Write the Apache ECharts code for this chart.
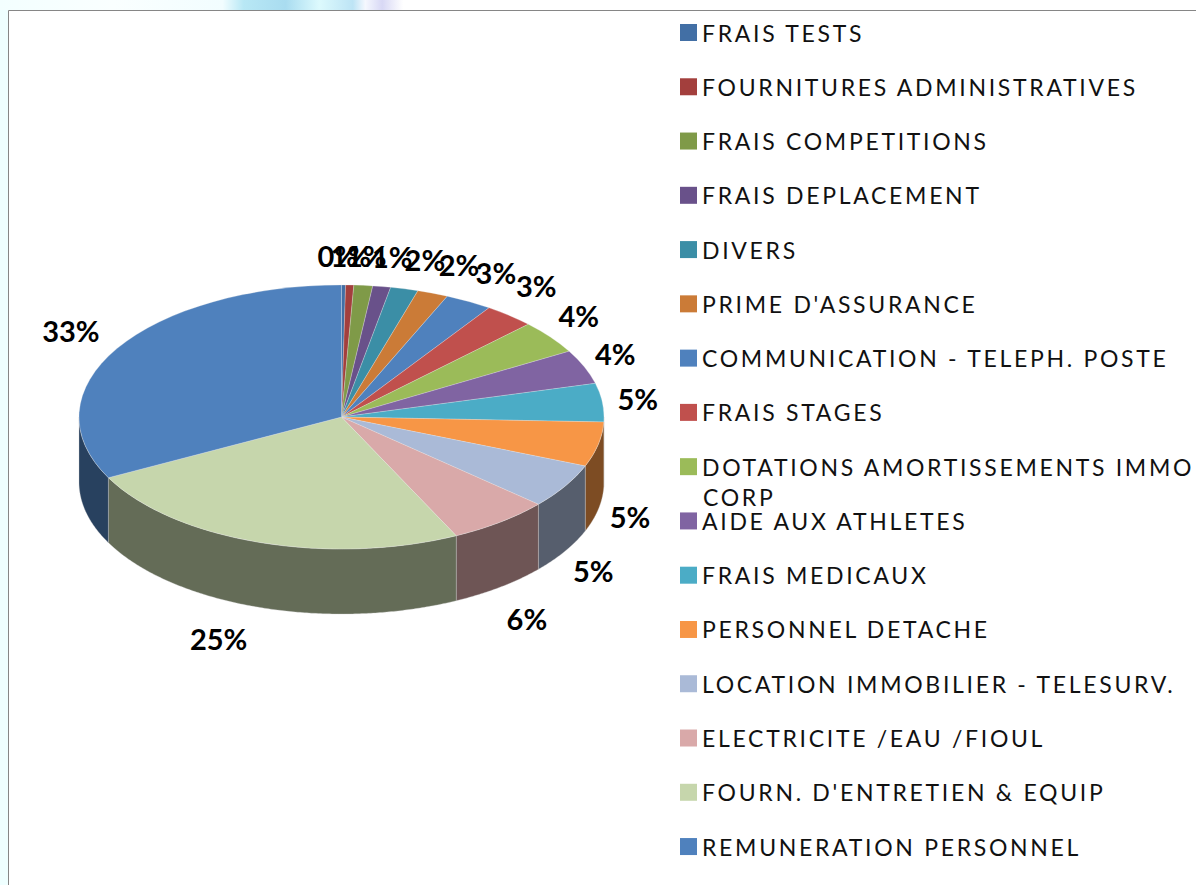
<!DOCTYPE html>
<html><head><meta charset="utf-8">
<style>
html,body{margin:0;padding:0;background:#fff;overflow:hidden}
#c{width:1196px;height:885px}
svg text{letter-spacing:2.7px}
svg text[style*="bold"]{letter-spacing:0}
</style>
<script src="https://cdn.jsdelivr.net/npm/echarts@6/dist/echarts.min.js"></script>
</head><body><div id="c"></div>
<script>
const categories = ["FRAIS TESTS","FOURNITURES ADMINISTRATIVES","FRAIS COMPETITIONS","FRAIS DEPLACEMENT","DIVERS","PRIME D'ASSURANCE","COMMUNICATION - TELEPH. POSTE","FRAIS STAGES","DOTATIONS AMORTISSEMENTS IMMO CORP","AIDE AUX ATHLETES","FRAIS MEDICAUX","PERSONNEL DETACHE","LOCATION IMMOBILIER - TELESURV.","ELECTRICITE /EAU /FIOUL","FOURN. D'ENTRETIEN & EQUIP","REMUNERATION PERSONNEL"];
const values = [0.25,0.5,1.15,1.1,1.7,1.9,2.9,3.1,4.1,4.2,4.7,5.45,5.45,6.3,24.6,32.6];
const colors = ["#426FA5","#A33F3D","#7F9A48","#69518A","#3B8EA6","#CB7B37","#4F81BD","#C0504D","#9BBB59","#8064A2","#4BACC6","#F79646","#AABAD7","#D9A9A9","#C6D6AC","#4F81BD"];
const PIE = {cx:341.5, cy:417, rx:262.5, ry:132, depth:65, labelRx:298, labelRy:167};
const labelNudge = {
  "FRAIS TESTS":[-6,5],"FOURNITURES ADMINISTRATIVES":[0,5],"FRAIS COMPETITIONS":[0,5],
  "FRAIS DEPLACEMENT":[5,5],"DIVERS":[12,5],"PRIME D'ASSURANCE":[14,4],
  "COMMUNICATION - TELEPH. POSTE":[10,2],"FRAIS STAGES":[4,-3],
  "AIDE AUX ATHLETES":[-2,0],"PERSONNEL DETACHE":[-3,0],"LOCATION IMMOBILIER - TELESURV.":[-2,1],
  "ELECTRICITE /EAU /FIOUL":[5,4],"FOURN. D'ENTRETIEN & EQUIP":[-29,-2],"REMUNERATION PERSONNEL":[-16,0]
};

const total = values.reduce((a,b)=>a+b,0);
let acc = 0;
const spans = values.map(v=>{const s=acc/total*360; acc+=v; return [s,acc/total*360];});
const rad = d=>d*Math.PI/180;
function darken(hex){const n=parseInt(hex.slice(1),16);
  return 'rgb('+[(n>>16)&255,(n>>8)&255,n&255].map(c=>Math.round(c*0.505)).join(',')+')';}
function ept(t,dy){return [PIE.cx+PIE.rx*Math.sin(rad(t)), PIE.cy-PIE.ry*Math.cos(rad(t))+dy];}

function makeRender(i){
  return function(){
    const [s,e]=spans[i];
    const children=[];
    const a1=Math.max(s,90), a2=Math.min(e,270);
    if(a1<a2){
      const top=[],bot=[];
      for(let t=a1;;t+=0.5){const u=Math.min(t,a2);top.push(ept(u,0));bot.unshift(ept(u,PIE.depth));if(u>=a2)break;}
      children.push({type:'polygon',shape:{points:top.concat(bot)},
        style:{fill:darken(colors[i]),stroke:'rgba(205,205,205,0.55)',lineWidth:0.6}});
    }
    children.push({type:'sector',x:PIE.cx,y:PIE.cy,scaleY:PIE.ry/PIE.rx,
      shape:{cx:0,cy:0,r0:0,r:PIE.rx,startAngle:rad(s-90),endAngle:rad(e-90),clockwise:true},
      style:{fill:colors[i],stroke:'rgba(235,235,235,0.6)',lineWidth:0.6}});
    const m=(s+e)/2;
    const n=labelNudge[categories[i]]||[0,0];
    const lx=PIE.cx+PIE.labelRx*Math.sin(rad(m))+n[0];
    const ly=PIE.cy-PIE.labelRy*Math.cos(rad(m))+(m>90&&m<270?PIE.depth:0)+n[1];
    children.push({type:'text',x:lx,y:ly,z2:50,style:{text:Math.round(values[i]/total*100)+'%',
      fill:'#000',font:'bold 29px Lato',align:'center',verticalAlign:'middle'}});
    return {type:'group',children};
  };
}

const chart = echarts.init(document.getElementById('c'),null,{renderer:'svg',width:1196,height:885});
chart.setOption({
  animation:false,
  backgroundColor:'#fff',
  color:colors,
  legend:{
    orient:'vertical',left:680,top:21,padding:0,height:860,itemWidth:17,itemHeight:17,itemGap:31.27,
    icon:'rect',selectedMode:false,
    data:categories,
    formatter:n=>n.replace(' CORP',''),
    textStyle:{fontFamily:'Lato',fontSize:23,color:'#111'}
  },
  graphic:[
    {type:'rect',silent:true,z:-10,shape:{x:0,y:0,width:420,height:10},style:{fill:new echarts.graphic.LinearGradient(0,0,1,0,[
      {offset:0,color:'#F3FFFF'},{offset:0.27,color:'#FAFFFF'},{offset:0.53,color:'#F2FDFF'},{offset:0.58,color:'#B8E8F5'},
      {offset:0.68,color:'#A9DCF0'},{offset:0.76,color:'#DDFAFD'},{offset:0.84,color:'#BDE4F5'},{offset:0.87,color:'#F5F8FE'},
      {offset:0.91,color:'#D8D8F5'},{offset:0.96,color:'#FFFFFF'},{offset:1,color:'#FFFFFF'}])}},
    {type:'rect',silent:true,z:-10,shape:{x:0,y:10,width:8,height:875},style:{fill:'#EFFFFF'}},
    {type:'line',silent:true,z:-5,shape:{x1:8.5,y1:10.5,x2:1196,y2:10.5},style:{stroke:'#868686',lineWidth:1}},
    {type:'line',silent:true,z:-5,shape:{x1:8.5,y1:10.5,x2:8.5,y2:885},style:{stroke:'#868686',lineWidth:1}},
    {type:'text',silent:true,x:703,y:497,style:{text:'CORP',font:'normal 23px Lato',fill:'#111',verticalAlign:'middle'}}
  ],
  series:categories.map((name,i)=>({
    type:'custom',name,coordinateSystem:'none',silent:true,
    itemStyle:{color:colors[i]},
    data:[values[i]],
    renderItem:makeRender(i)
  }))
});
</script></body></html>
